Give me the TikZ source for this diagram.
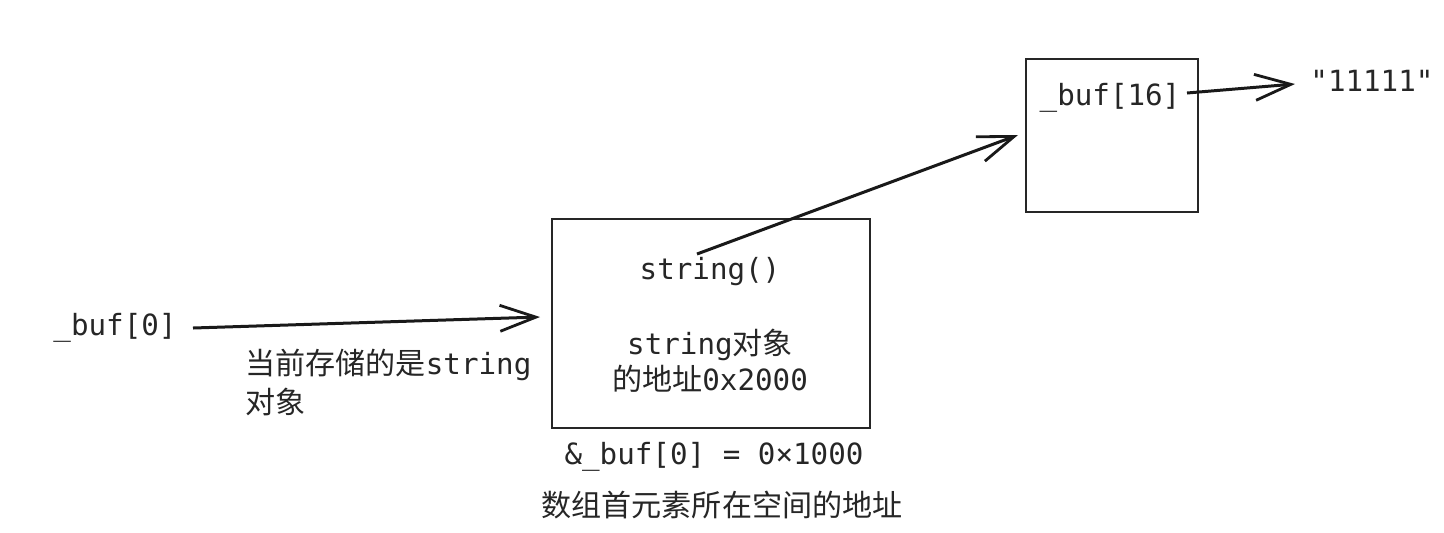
\documentclass[tikz,border=0pt]{standalone}
\usepackage{fontspec}
\setmainfont{DejaVu Sans Mono}[Ligatures=TeXOff]
\newfontfamily\cjk[Scale=1.03]{Noto Sans CJK SC}
\usetikzlibrary{arrows.meta}
\begin{document}
\begin{tikzpicture}[x=0.5pt,y=-0.5pt,
  txt/.style={inner sep=0pt,font=\fontsize{14.6pt}{17pt}\selectfont,text=black!85},
  boxx/.style={draw=black!85,line width=1.3pt},
  conn/.style={draw=black!90,line width=1.5pt,-{Straight Barb[length=18pt,width=13pt,line width=1.4pt]}}]
\useasboundingbox (0,0) rectangle (1444,532);
% boxes
\draw[boxx] (552,219) rectangle (870,428);
\draw[boxx] (1026,59) rectangle (1198,212);
\coordinate (mainW) at (540,317);
\coordinate (smallW) at (1018,135);
% texts
\node[txt] (b0) at (115,328) {\_buf[0]};
\node[txt,anchor=west] (note1) at (245,365) {{\cjk 当前存储的是}string};
\node[txt,anchor=west] (note2) at (245,402) {{\cjk 对象}};
\node[txt] (ctor) at (710,272) {string()};
\node[txt] (addr1) at (710,345) {string{\cjk 对象}};
\node[txt] (addr2) at (710,379) {{\cjk 的地址}0x2000};
\node[txt] (amp) at (714,457) {\&\_buf[0] = 0×1000};
\node[txt] (cap) at (722,505) {{\cjk 数组首元素所在空间的地址}};
\node[txt] (b16) at (1110,98) {\_buf[16]};
\node[txt,anchor=west] (str) at (1310,81) {"11111"};
% connectors
\coordinate (b0s) at (193,328);
\draw[conn] (b0s) -- (mainW);
\coordinate (cs) at (697,254);
\draw[conn] (cs) -- (smallW);
\coordinate (b16s) at (1187,93);
\coordinate (strW) at (1295,84);
\draw[conn] (b16s) -- (strW);
\end{tikzpicture}
\end{document}
